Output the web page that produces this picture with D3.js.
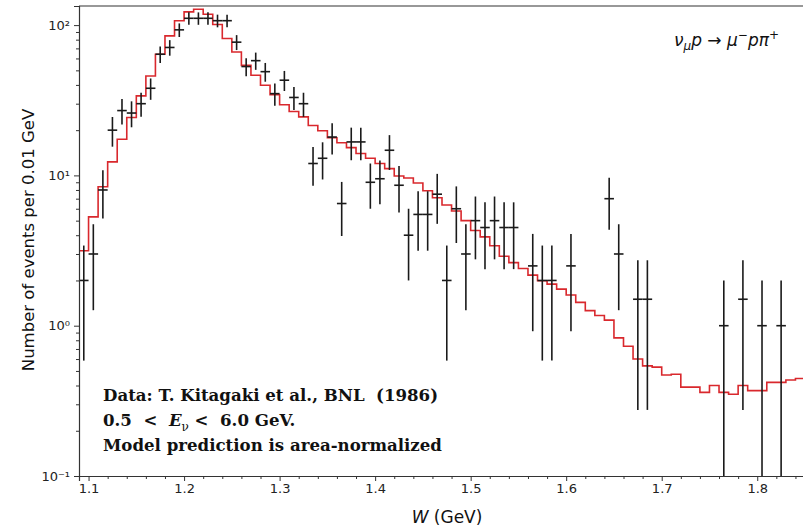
<!DOCTYPE html>
<html>
<head>
<meta charset="utf-8">
<script src="https://cdn.jsdelivr.net/npm/d3@7"></script>
<style>
  body { margin: 0; background: #fff; }
  svg { display: block; }
</style>
</head>
<body>
<div id="chart"></div>
<script>
"use strict";

// model histogram: lower bin edges (GeV) and heights, bin width 0.01
var modelEdges = [];
for (var e = 0; e < 76; e++) modelEdges.push(+(1.09 + e * 0.01).toFixed(2));
var modelValues = [
  3.15, 5.3, 8.4, 12.3, 17.4, 24.3, 33.8, 45.9, 64, 84.8,
  107, 122.5, 127.6, 118, 101, 81.5, 66.3, 54, 46.4, 39.8,
  34.4, 29.5, 26.6, 24.5, 21.5, 19.8, 17.8, 16.5, 15.3, 14.0,
  13.0, 12.0, 11.1, 9.9, 9.6, 8.9, 7.9, 7.1, 6.35, 5.8,
  5.0, 4.3, 3.9, 3.4, 2.9, 2.63, 2.4, 2.17, 1.99, 1.89,
  1.75, 1.6, 1.43, 1.26, 1.17, 1.09, 0.83, 0.73, 0.6, 0.54,
  0.53, 0.47, 0.475, 0.39, 0.39, 0.36, 0.40, 0.36, 0.35, 0.40,
  0.37, 0.37, 0.42, 0.42, 0.435, 0.445
];

// measured points: bin centres and counts (error = sqrt(count))
var dataW = [
  1.095, 1.105, 1.115, 1.125, 1.135, 1.145, 1.155, 1.165, 1.175, 1.185,
  1.195, 1.205, 1.215, 1.225, 1.235, 1.245, 1.255, 1.265, 1.275, 1.285,
  1.295, 1.305, 1.315, 1.325, 1.335, 1.345, 1.355, 1.365, 1.375, 1.385,
  1.395, 1.405, 1.415, 1.425, 1.435, 1.445, 1.455, 1.465, 1.475, 1.485,
  1.495, 1.505, 1.515, 1.525, 1.535, 1.545, 1.565, 1.575, 1.585, 1.605,
  1.645, 1.655, 1.675, 1.685, 1.765, 1.785, 1.805, 1.825
];
var dataN = [
  2, 3, 8, 20, 27, 26, 30, 38, 64, 71,
  93, 111, 111, 111, 107, 107, 77, 53, 58, 49,
  35, 43, 33, 30, 12, 13, 18, 6.5, 16.7, 16.7,
  9, 9.5, 14.7, 8.6, 4, 5.5, 5.5, 7.5, 2, 6,
  3, 5, 4.5, 5, 4.5, 4.5, 2.5, 2, 2, 2.5,
  7, 3, 1.5, 1.5, 1, 1.5, 1, 1
];

var xTicks = [1.1, 1.2, 1.3, 1.4, 1.5, 1.6, 1.7, 1.8];
var yTicks = [0.1, 1, 10, 100];
var yTickLabels = ["10\u207B\u00B9", "10\u2070", "10\u00B9", "10\u00B2"];

var width = 803, height = 527;
var pLeft = 79, pTop = 6, pBottom = 476, pRight = 805;

var svg = d3.select("#chart").append("svg")
  .attr("width", width).attr("height", height)
  .style("font-family", "'DejaVu Sans', sans-serif");

var x = d3.scaleLinear().domain([1.09, 1.85]).range([pLeft, pRight]);
var y = d3.scaleLog().domain([0.1, 134]).range([pBottom, pTop]);

svg.append("clipPath").attr("id", "plotclip")
  .append("rect").attr("x", pLeft).attr("y", pTop)
  .attr("width", pRight - pLeft).attr("height", pBottom - pTop);

var plot = svg.append("g").attr("clip-path", "url(#plotclip)");

// model histogram as steps
var steps = modelEdges.map(function (w, i) { return { x: w, y: modelValues[i] }; });
steps.push({ x: 1.85, y: modelValues[modelValues.length - 1] });

var line = d3.line()
  .x(function (d) { return x(d.x); })
  .y(function (d) { return y(d.y); })
  .curve(d3.curveStepAfter);

plot.append("path").datum(steps)
  .attr("fill", "none")
  .attr("stroke", "#d9282d")
  .attr("stroke-width", 1.6)
  .attr("d", line);

// data points with error bars
var pts = dataW.map(function (w, i) { return { w: w, n: dataN[i] }; });
var bars = plot.append("g").attr("stroke", "#1a1a1a").attr("stroke-width", 1.6);

bars.selectAll("line.v").data(pts).enter().append("line")
  .attr("class", "v")
  .attr("x1", function (d) { return x(d.w); })
  .attr("x2", function (d) { return x(d.w); })
  .attr("y1", function (d) { return y(d.n + Math.sqrt(d.n)); })
  .attr("y2", function (d) {
    var lo = d.n - Math.sqrt(d.n);
    return lo > 0.05 ? y(lo) : pBottom + 5;
  });

bars.selectAll("line.h").data(pts).enter().append("line")
  .attr("class", "h")
  .attr("x1", function (d) { return x(d.w - 0.005); })
  .attr("x2", function (d) { return x(d.w + 0.005); })
  .attr("y1", function (d) { return y(d.n); })
  .attr("y2", function (d) { return y(d.n); });

// axes
var axisColor = "#333";

svg.append("g").attr("transform", "translate(0," + pBottom + ")")
  .call(d3.axisBottom(x).tickValues(xTicks).tickSize(5).tickPadding(3)
    .tickFormat(d3.format(".1f")));
var minorX = d3.range(1.10, 1.85, 0.02).filter(function (v) {
  return Math.abs(v * 10 - Math.round(v * 10)) > 0.01;
});
svg.append("g").attr("transform", "translate(0," + pBottom + ")")
  .call(d3.axisBottom(x).tickValues(minorX).tickSize(3).tickFormat(""))
  .call(function (g) { g.select(".domain").remove(); });

svg.append("g").attr("transform", "translate(" + pLeft + ",0)")
  .call(d3.axisLeft(y).tickValues(yTicks).tickSize(5).tickPadding(4)
    .tickFormat(function (d, i) { return yTickLabels[i]; }));
var minorY = [];
[0.1, 1, 10].forEach(function (dec) {
  for (var k = 2; k <= 9; k++) minorY.push(dec * k);
});
svg.append("g").attr("transform", "translate(" + pLeft + ",0)")
  .call(d3.axisLeft(y).tickValues(minorY).tickSize(3).tickFormat(""))
  .call(function (g) { g.select(".domain").remove(); });

svg.selectAll(".tick line").attr("stroke", axisColor);
svg.selectAll(".domain").attr("stroke", axisColor).attr("stroke-width", 1.2);
svg.selectAll(".tick text")
  .attr("fill", "#222")
  .style("font-family", "'DejaVu Sans', sans-serif")
  .style("font-size", "13px");

// top spine
svg.append("line")
  .attr("x1", pLeft).attr("x2", pRight).attr("y1", pTop).attr("y2", pTop)
  .attr("stroke", axisColor).attr("stroke-width", 1.2);

// axis titles
svg.append("text")
  .attr("transform", "translate(34,240) rotate(-90)")
  .attr("text-anchor", "middle")
  .attr("fill", "#111")
  .style("font-size", "16.5px")
  .text("Number of events per 0.01 GeV");

var xl = svg.append("text")
  .attr("x", 447).attr("y", 523)
  .attr("text-anchor", "middle")
  .attr("fill", "#111")
  .style("font-size", "17px");
xl.append("tspan").style("font-style", "italic").text("W");
xl.append("tspan").text(" (GeV)");

// reaction label
var rx = svg.append("text")
  .attr("x", 674).attr("y", 46)
  .attr("fill", "#111")
  .style("font-size", "17px")
  .style("font-style", "italic");
rx.append("tspan").text("\u03BD");
rx.append("tspan").attr("dy", 4).style("font-size", "12px").text("\u03BC");
rx.append("tspan").attr("dy", -4).text("p");
rx.append("tspan").style("font-style", "normal").text("\u00A0\u2192\u00A0");
rx.append("tspan").text("\u03BC");
rx.append("tspan").attr("dy", -7).style("font-size", "12px").style("font-style", "normal").text("\u2212");
rx.append("tspan").attr("dy", 7).text("p\u03C0");
rx.append("tspan").attr("dy", -7).style("font-size", "12px").style("font-style", "normal").text("+");

// annotation block
var note = svg.append("g")
  .style("font-family", "'DejaVu Serif', serif")
  .style("font-weight", "bold")
  .style("font-size", "16.6px")
  .attr("fill", "#111");

note.append("text").attr("x", 103).attr("y", 401)
  .text("Data: T. Kitagaki et al., BNL\u00A0 (1986)");
var l2 = note.append("text").attr("x", 103).attr("y", 426);
l2.append("tspan").text("0.5\u00A0\u00A0<\u00A0\u00A0");
l2.append("tspan").style("font-style", "italic").text("E");
l2.append("tspan").attr("dy", 5).style("font-size", "12px").style("font-weight", "normal").text("\u03BD");
l2.append("tspan").attr("dy", -5).text("\u00A0<\u00A0\u00A06.0 GeV.");
note.append("text").attr("x", 103).attr("y", 451)
  .text("Model prediction is area-normalized");
</script>
</body>
</html>
